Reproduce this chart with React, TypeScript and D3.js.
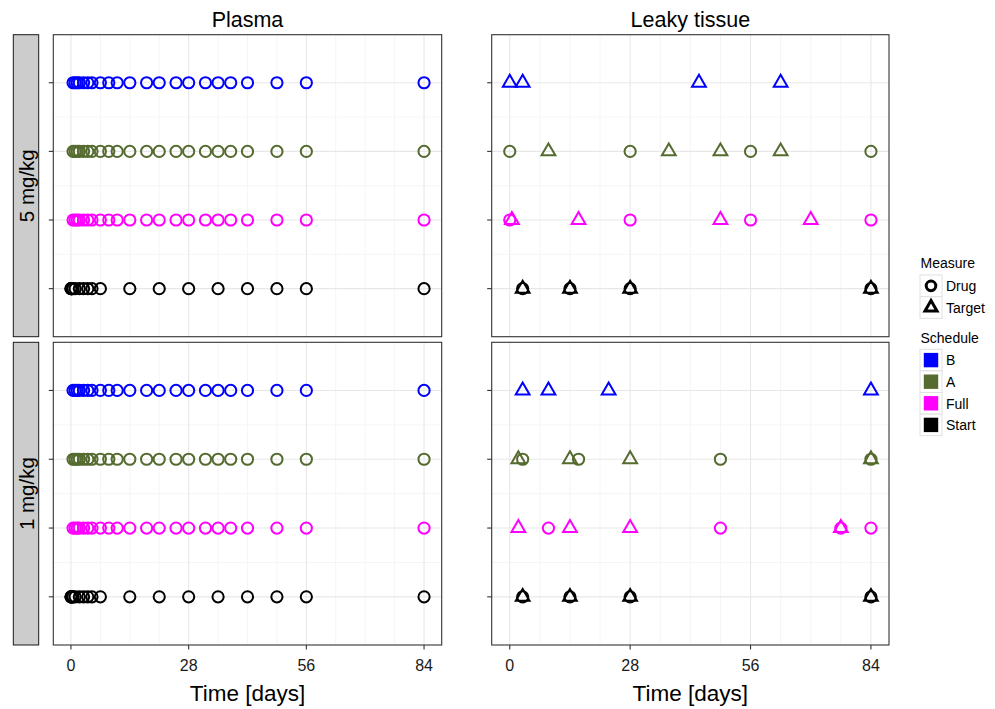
import React from "react";
import * as d3 from "d3";

// ---------- data ----------
const schedules = ["Start", "Full", "A", "B"]; // bottom -> top
const scheduleColors = ["#000000", "#FF00FF", "#556B2F", "#0000FF"];
const legendSchedules = ["B", "A", "Full", "Start"];
const doses = ["5 mg/kg", "1 mg/kg"];
const tissues = ["Plasma", "Leaky tissue"];
const xTicks = [0, 28, 56, 84];
const xMinor = [7, 14, 21, 35, 42, 49, 63, 70, 77];

// Plasma (drug only), same in both doses
const plasmaScheduleDays = [0.5, 1, 1.5, 2, 3, 4, 5, 7, 9, 11, 14, 18, 21, 25, 28, 32, 35, 38, 42, 49, 56, 84];
const plasmaStartDays = [0, 0.04, 0.08, 0.17, 0.25, 0.5, 1, 2, 3, 4, 5, 7, 14, 21, 28, 35, 42, 49, 56, 84];

// Leaky tissue, 5 mg/kg
const leaky5_B_drug: number[] = [];
const leaky5_B_target = [0, 3, 44, 63];
const leaky5_A_drug = [0, 28, 56, 84];
const leaky5_A_target = [9, 37, 49, 63];
const leaky5_Full_drug = [0, 28, 56, 84];
const leaky5_Full_target = [0.5, 16, 49, 70];
const leaky5_Start_drug = [3, 14, 28, 84];
const leaky5_Start_target = [3, 14, 28, 84];

// Leaky tissue, 1 mg/kg
const leaky1_B_drug: number[] = [];
const leaky1_B_target = [3, 9, 23, 84];
const leaky1_A_drug = [3, 16, 49, 84];
const leaky1_A_target = [2, 14, 28, 84];
const leaky1_Full_drug = [9, 49, 77, 84];
const leaky1_Full_target = [2, 14, 28, 77];
const leaky1_Start_drug = [3, 14, 28, 84];
const leaky1_Start_target = [3, 14, 28, 84];

type Pt = { day: number; sched: string; measure: "Drug" | "Target" };

function pts(sched: string, drug: number[], target: number[]): Pt[] {
  return [
    ...drug.map((d) => ({ day: d, sched, measure: "Drug" as const })),
    ...target.map((d) => ({ day: d, sched, measure: "Target" as const })),
  ];
}

const plasmaPts: Pt[] = [
  ...pts("Start", plasmaStartDays, []),
  ...pts("Full", plasmaScheduleDays, []),
  ...pts("A", plasmaScheduleDays, []),
  ...pts("B", plasmaScheduleDays, []),
];
const leaky5Pts: Pt[] = [
  ...pts("Start", leaky5_Start_drug, leaky5_Start_target),
  ...pts("Full", leaky5_Full_drug, leaky5_Full_target),
  ...pts("A", leaky5_A_drug, leaky5_A_target),
  ...pts("B", leaky5_B_drug, leaky5_B_target),
];
const leaky1Pts: Pt[] = [
  ...pts("Start", leaky1_Start_drug, leaky1_Start_target),
  ...pts("Full", leaky1_Full_drug, leaky1_Full_target),
  ...pts("A", leaky1_A_drug, leaky1_A_target),
  ...pts("B", leaky1_B_drug, leaky1_B_target),
];
const panelData: Pt[][][] = [
  [plasmaPts, leaky5Pts],
  [plasmaPts, leaky1Pts],
];

// ---------- layout ----------
const W = 995;
const H = 709;
const colX = [
  [53.3, 441.7],
  [491.7, 889],
];
const rowY = [
  [34.7, 336.7],
  [342.3, 645],
];
const FONT = "'Liberation Sans', Arial, Helvetica, sans-serif";
const colorOf = d3.scaleOrdinal<string, string>().domain(schedules).range(scheduleColors);

function trianglePath(s: number) {
  const h = (s * Math.sqrt(3)) / 2;
  return `M0,${-(2 * h) / 3}L${s / 2},${h / 3}L${-s / 2},${h / 3}Z`;
}

function Marker({ m, color, sw, r, s }: { m: string; color: string; sw: number; r: number; s: number }) {
  return m === "Drug" ? (
    <circle r={r} fill="none" stroke={color} strokeWidth={sw} />
  ) : (
    <path d={trianglePath(s)} fill="none" stroke={color} strokeWidth={sw} strokeLinejoin="miter" />
  );
}

export default function App() {
  const xScales = colX.map((c) => d3.scaleLinear().domain([-4.2, 88.2]).range(c));
  const yScales = rowY.map((r) => d3.scalePoint<string>().domain(schedules).range([r[1], r[0]]).padding(0.7));

  return (
    <svg width={W} height={H} style={{ position: "absolute", left: 0, top: 0, background: "#fff" }} fontFamily={FONT}>
      <rect width={W} height={H} fill="#fff" />
      {/* column titles */}
      {tissues.map((t, ci) => (
        <text key={t} x={(colX[ci][0] + colX[ci][1]) / 2} y={27} textAnchor="middle" fontSize={21.5} fill="#000">
          {t}
        </text>
      ))}
      {/* strips */}
      {doses.map((d, ri) => (
        <g key={d}>
          <rect x={13.3} y={rowY[ri][0]} width={25.4} height={rowY[ri][1] - rowY[ri][0]} fill="#CCCCCC" stroke="#1a1a1a" strokeWidth={1} />
          <text
            transform={`translate(${33.5},${(rowY[ri][0] + rowY[ri][1]) / 2}) rotate(-90)`}
            textAnchor="middle"
            fontSize={20.5}
            fill="#000"
          >
            {d}
          </text>
        </g>
      ))}
      {/* panels */}
      {rowY.map((ry, ri) =>
        colX.map((cx, ci) => {
          const x = xScales[ci];
          const y = yScales[ri];
          const step = y.step();
          const data = panelData[ri][ci];
          return (
            <g key={`${ri}-${ci}`}>
              <rect x={cx[0]} y={ry[0]} width={cx[1] - cx[0]} height={ry[1] - ry[0]} fill="#fff" />
              {/* minor grid */}
              {xMinor.map((t) => (
                <line key={"mx" + t} x1={x(t)} x2={x(t)} y1={ry[0]} y2={ry[1]} stroke="#F3F3F3" strokeWidth={0.8} />
              ))}
              {schedules.slice(1).map((s) => (
                <line key={"my" + s} x1={cx[0]} x2={cx[1]} y1={(y(s) as number) + step / 2} y2={(y(s) as number) + step / 2} stroke="#F3F3F3" strokeWidth={0.8} />
              ))}
              {/* major grid */}
              {xTicks.map((t) => (
                <line key={"gx" + t} x1={x(t)} x2={x(t)} y1={ry[0]} y2={ry[1]} stroke="#E8E8E8" strokeWidth={1.1} />
              ))}
              {schedules.map((s) => (
                <line key={"gy" + s} x1={cx[0]} x2={cx[1]} y1={y(s)} y2={y(s)} stroke="#E8E8E8" strokeWidth={1.1} />
              ))}
              {/* points */}
              {data.map((p, i) => (
                <g key={i} transform={`translate(${x(p.day)},${y(p.sched)})`}>
                  <Marker m={p.measure} color={colorOf(p.sched)} sw={2} r={5.6} s={13.8} />
                </g>
              ))}
              {/* border */}
              <rect x={cx[0]} y={ry[0]} width={cx[1] - cx[0]} height={ry[1] - ry[0]} fill="none" stroke="#333" strokeWidth={1.1} />
              {/* y ticks */}
              {schedules.map((s) => (
                <line key={"ty" + s} x1={cx[0] - 4.5} x2={cx[0]} y1={y(s)} y2={y(s)} stroke="#333" strokeWidth={1.1} />
              ))}
              {/* x axis on bottom row */}
              {ri === 1 && (
                <g>
                  {xTicks.map((t) => (
                    <g key={"tx" + t}>
                      <line x1={x(t)} x2={x(t)} y1={ry[1]} y2={ry[1] + 4.5} stroke="#333" strokeWidth={1.1} />
                      <text x={x(t)} y={671} textAnchor="middle" fontSize={16} fill="#1a1a1a">
                        {t}
                      </text>
                    </g>
                  ))}
                  <text x={(cx[0] + cx[1]) / 2} y={701} textAnchor="middle" fontSize={22.5} fill="#000">
                    Time [days]
                  </text>
                </g>
              )}
            </g>
          );
        })
      )}
      {/* legend: Measure */}
      <text x={920.5} y={268.3} fontSize={14} fill="#000">Measure</text>
      {["Drug", "Target"].map((m, i) => (
        <g key={m}>
          <rect x={920} y={275 + i * 21.7} width={22} height={21.7} fill="#fff" stroke="#E0E0E0" strokeWidth={1} />
          <g transform={`translate(931,${275 + i * 21.7 + 10.85})`}>
            <Marker m={m} color="#000" sw={3} r={4.8} s={12} />
          </g>
          <text x={946} y={275 + i * 21.7 + 16} fontSize={14} fill="#000">{m}</text>
        </g>
      ))}
      {/* legend: Schedule */}
      <text x={920.5} y={342.7} fontSize={14} fill="#000">Schedule</text>
      {legendSchedules.map((s, i) => (
        <g key={s}>
          <rect x={920} y={349.3 + i * 21.6} width={22} height={21.6} fill="#fff" stroke="#E0E0E0" strokeWidth={1} />
          <rect x={923.8} y={349.3 + i * 21.6 + 3.6} width={14.4} height={14.4} fill={colorOf(s)} />
          <text x={946} y={349.3 + i * 21.6 + 16} fontSize={14} fill="#000">{s}</text>
        </g>
      ))}
    </svg>
  );
}
